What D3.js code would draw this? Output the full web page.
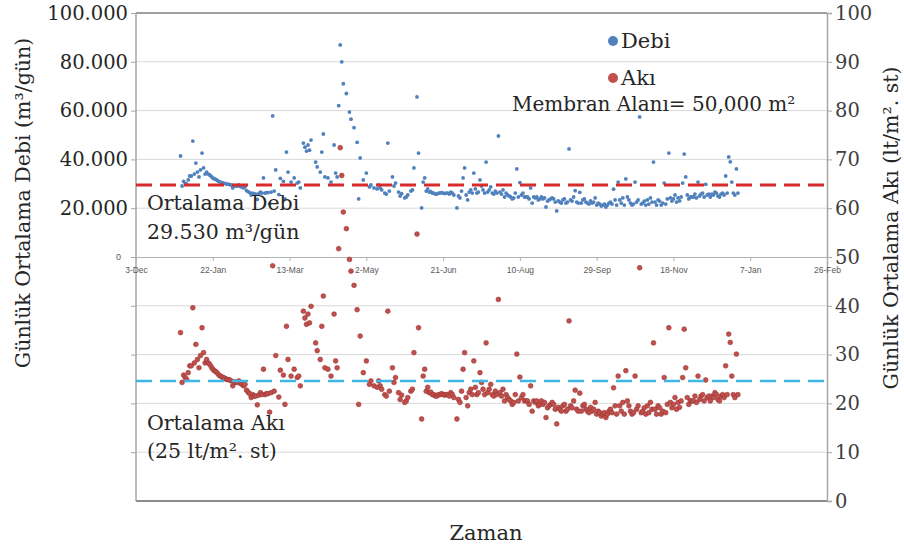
<!DOCTYPE html>
<html>
<head>
<meta charset="utf-8">
<script src="https://cdn.jsdelivr.net/npm/d3@7"></script>
<style>
  body { margin: 0; background: #fff; }
  svg text { font-family: "DejaVu Serif", serif; fill: #262626; }
  svg text.small { font-family: "Liberation Sans", Arial, sans-serif; fill: #595959; }
</style>
</head>
<body>
<div id="chart"></div>
<script>
// daily readings (2010), one line per month
const dates = [
  "01-01","01-02","01-03","01-04","01-05","01-06","01-07","01-08","01-09","01-10","01-11","01-12","01-13","01-14","01-15","01-16","01-17","01-18","01-19","01-20","01-21","01-22","01-23","01-24","01-25","01-26","01-27","01-28","01-29","01-30","01-31",
  "02-01","02-02","02-03","02-04","02-05","02-06","02-07","02-08","02-09","02-10","02-11","02-12","02-13","02-14","02-15","02-16","02-17","02-18","02-19","02-20","02-21","02-22","02-23","02-24","02-25","02-26","02-27","02-28",
  "03-01","03-02","03-03","03-04","03-06","03-07","03-09","03-10","03-11","03-12","03-14","03-16","03-18","03-19","03-20","03-22","03-23","03-24","03-25","03-26","03-27","03-30","03-31",
  "04-02","04-03","04-04","04-05","04-07","04-09","04-11","04-12","04-13","04-14","04-15","04-16","04-17","04-19","04-21","04-22","04-24","04-26","04-27","04-28","04-30",
  "05-02","05-04","05-05","05-07","05-09","05-10","05-11","05-12","05-14","05-15","05-16","05-17","05-19","05-20","05-21","05-23","05-24","05-25","05-27","05-28","05-29","05-31",
  "06-01","06-02","06-04","06-05","06-07","06-08","06-09","06-10","06-11","06-12","06-13","06-14","06-15","06-16","06-17","06-18","06-19","06-20","06-21","06-22","06-23","06-24","06-25","06-26","06-27","06-28","06-30",
  "07-01","07-02","07-03","07-04","07-05","07-06","07-07","07-08","07-09","07-10","07-11","07-12","07-13","07-14","07-15","07-16","07-17","07-18","07-19","07-20","07-21","07-22","07-23","07-24","07-25","07-26","07-27","07-28","07-29","07-30","07-31",
  "08-01","08-02","08-03","08-04","08-05","08-06","08-07","08-08","08-09","08-10","08-11","08-12","08-13","08-14","08-15","08-16","08-17","08-18","08-19","08-20","08-21","08-22","08-23","08-24","08-25","08-26","08-27","08-28","08-29","08-30","08-31",
  "09-01","09-02","09-03","09-04","09-05","09-06","09-07","09-08","09-09","09-10","09-11","09-12","09-13","09-14","09-15","09-16","09-17","09-18","09-19","09-20","09-21","09-22","09-23","09-24","09-25","09-26","09-27","09-28","09-29","09-30",
  "10-01","10-02","10-03","10-04","10-05","10-06","10-07","10-08","10-09","10-10","10-11","10-12","10-13","10-14","10-15","10-16","10-17","10-18","10-19","10-20","10-21","10-22","10-23","10-24","10-25","10-26","10-27","10-28","10-29","10-30","10-31",
  "11-01","11-02","11-03","11-04","11-05","11-06","11-07","11-08","11-09","11-10","11-11","11-12","11-13","11-14","11-15","11-16","11-17","11-18","11-19","11-20","11-21","11-22","11-23","11-24","11-25","11-26","11-27","11-28","11-29","11-30",
  "12-01","12-02","12-03","12-04","12-05","12-06","12-07","12-08","12-09","12-10","12-11","12-12","12-13","12-14","12-15","12-16","12-17","12-18","12-19","12-20","12-21","12-22","12-23","12-24","12-25","12-26","12-27","12-28","12-29","12-30"
];

// Debi, m3/gün
const debi = [
  41400,29100,31000,30300,29900,31600,33200,33200,47500,34000,38500,34800,32800,35700,42600,36500,34000,34800,34000,33600,33000,32400,32000,31800,31400,30900,30700,30500,30300,30100,29900,
  29900,29700,29500,28300,29300,29100,29100,29500,28900,28700,28300,28700,27200,26800,26400,25400,26200,25800,25800,23600,26000,26600,26200,32400,26200,26400,26400,21800,
  26600,57800,27000,35700,25600,32200,31000,23800,43000,34800,30700,32400,30300,30700,28300,46700,45000,43400,45900,43800,47900,38900,36900,
  34800,43000,50400,32800,32400,30700,45900,34400,32800,62000,86900,80000,71000,67000,59400,56500,53000,47000,23800,40600,31600,
  34400,28700,29500,28300,27900,29500,28300,27500,26200,25800,46700,27000,32800,29100,30300,26600,25000,26000,24200,24600,25400,27000,
  27500,36500,65600,42600,20100,30700,32400,27000,27900,26600,26800,26200,26200,25800,25800,26200,26200,26400,26200,26000,26200,26200,25800,26600,26200,25400,20100,
  25000,24200,27000,32400,36500,25400,23400,26600,27500,26200,34400,27900,26200,26600,31600,29100,27500,26200,38900,26600,27500,28700,26200,25800,27000,26200,49600,26600,25800,27500,24600,
  26200,25400,25000,24600,23800,24200,26200,36100,24600,30500,25400,26200,24600,24600,24600,23800,28300,22100,24600,24200,24600,23400,23800,24600,23800,24200,20500,22900,23400,23800,24200,
  23800,22500,18900,23000,22500,22100,23400,23800,22100,22500,44300,23400,22900,24600,27200,22500,22100,26500,22100,23400,23800,22500,22100,21700,23000,22100,22500,24200,21300,22100,
  21700,20900,21300,21700,20500,21300,22100,22500,21700,27800,23400,21300,30700,23400,22100,24200,21300,32000,24600,23400,22100,21300,21700,30700,22500,23400,57400,21700,22100,22900,21300,
  23400,21700,24200,22500,38900,22500,21300,23400,22900,21300,22100,30300,21700,23800,42600,24200,22900,23800,25400,22500,24200,23000,24600,30300,42200,32800,25400,23800,24600,24600,
  24600,25800,24200,30700,25000,25800,26200,24600,29800,25400,25800,24600,25800,25400,26600,26200,25000,24600,25800,26200,25400,33200,26200,41000,39000,30700,26200,25400,36100,26200
];

// Akı, lt/m2.st
const aki = [
  34.5,24.3,25.8,25.3,24.9,26.3,27.7,27.7,39.6,28.3,32.1,29.0,27.3,29.8,35.5,30.4,28.3,29.0,28.3,28.0,27.5,27.0,26.7,26.5,26.2,25.8,25.6,25.4,25.3,25.1,24.9,
  24.9,24.8,24.6,23.6,24.4,24.3,24.3,24.6,24.1,23.9,23.6,23.9,22.7,22.3,22.0,21.2,21.8,21.5,21.5,19.7,21.7,22.2,21.8,27.0,21.8,22.0,22.0,18.2,
  22.2,48.2,22.5,29.8,21.3,26.8,25.8,19.8,35.8,29.0,25.6,27.0,25.3,25.6,23.6,38.9,37.5,36.2,38.3,36.5,39.9,32.4,30.8,
  29.0,35.8,42.0,27.3,27.0,25.6,38.3,28.7,27.3,51.7,72.4,66.7,59.2,55.8,49.5,47.1,44.2,39.2,19.8,33.8,26.3,
  28.7,23.9,24.6,23.6,23.3,24.6,23.6,22.9,21.8,21.5,38.9,22.5,27.3,24.3,25.3,22.2,20.8,21.7,20.2,20.5,21.2,22.5,
  22.9,30.4,54.7,35.5,16.8,25.6,27.0,22.5,23.3,22.2,22.3,21.8,21.8,21.5,21.5,21.8,21.8,22.0,21.8,21.7,21.8,21.8,21.5,22.2,21.8,21.2,16.8,
  20.8,20.2,22.5,27.0,30.4,21.2,19.5,22.2,22.9,21.8,28.7,23.3,21.8,22.2,26.3,24.3,22.9,21.8,32.4,22.2,22.9,23.9,21.8,21.5,22.5,21.8,41.3,22.2,21.5,22.9,20.5,
  21.8,21.2,20.8,20.5,19.8,20.2,21.8,30.1,20.5,25.4,21.2,21.8,20.5,20.5,20.5,19.8,23.6,18.4,20.5,20.2,20.5,19.5,19.8,20.5,19.8,20.2,17.1,19.1,19.5,19.8,20.2,
  19.8,18.8,15.8,19.2,18.8,18.4,19.5,19.8,18.4,18.8,36.9,19.5,19.1,20.5,22.7,18.8,18.4,22.1,18.4,19.5,19.8,18.8,18.4,18.1,19.2,18.4,18.8,20.2,17.8,18.4,
  18.1,17.4,17.8,18.1,17.1,17.8,18.4,18.8,18.1,23.2,19.5,17.8,25.6,19.5,18.4,20.2,17.8,26.7,20.5,19.5,18.4,17.8,18.1,25.6,18.8,19.5,47.8,18.1,18.4,19.1,17.8,
  19.5,18.1,20.2,18.8,32.4,18.8,17.8,19.5,19.1,17.8,18.4,25.3,18.1,19.8,35.5,20.2,19.1,19.8,21.2,18.8,20.2,19.2,20.5,25.3,35.2,27.3,21.2,19.8,20.5,20.5,
  20.5,21.5,20.2,25.6,20.8,21.5,21.8,20.5,24.8,21.2,21.5,20.5,21.5,21.2,22.2,21.8,20.8,20.5,21.5,21.8,21.2,27.7,21.8,34.2,32.5,25.6,21.8,21.2,30.1,21.8
];

const xTickDates = ["2009-12-03","2010-01-22","2010-03-13","2010-05-02","2010-06-21","2010-08-10","2010-09-29","2010-11-18","2011-01-07","2011-02-26"];
const debiTicks = [0, 20000, 40000, 60000, 80000, 100000];
const akiTicks = [0, 10, 20, 30, 40, 50, 60, 70, 80, 90, 100];
const debiMean = 29530;
const akiMean = 24.6;

const width = 904, height = 549;
const plotLeft = 136, plotRight = 827, plotTop = 13, plotBottom = 501;

const parse = d3.timeParse("%Y-%m-%d");
const points = dates.map((d, i) => ({ date: parse("2010-" + d), debi: debi[i], aki: aki[i] }));

const x = d3.scaleTime().domain([parse(xTickDates[0]), parse(xTickDates[xTickDates.length - 1])]).range([plotLeft, plotRight]);
const yAki = d3.scaleLinear().domain([0, 100]).range([plotBottom, plotTop]);
const yDebi = d3.scaleLinear().domain([0, 100000]).range([yAki(50), plotTop]);

const svg = d3.select("#chart").append("svg")
  .attr("width", width).attr("height", height);

// gridlines
svg.append("g")
  .selectAll("line")
  .data(akiTicks.filter(t => t > 0 && t < 100 && t !== 50))
  .enter().append("line")
  .attr("x1", plotLeft).attr("x2", plotRight)
  .attr("y1", d => yAki(d)).attr("y2", d => yAki(d))
  .attr("stroke", "#d9d9d9").attr("stroke-width", 1);

// frame
svg.append("line").attr("x1", plotLeft).attr("x2", plotRight).attr("y1", plotTop).attr("y2", plotTop)
  .attr("stroke", "#7f7f7f").attr("stroke-width", 1.5);
svg.append("line").attr("x1", plotLeft).attr("x2", plotRight).attr("y1", plotBottom).attr("y2", plotBottom)
  .attr("stroke", "#8c8c8c").attr("stroke-width", 2);

// left axis (Debi, upper half) + ticks on the lower half
const leftAxis = svg.append("g").attr("transform", `translate(${plotLeft},0)`)
  .call(d3.axisLeft(yDebi).tickValues(debiTicks).tickSize(5).tickFormat(""));
leftAxis.select(".domain").remove();
leftAxis.selectAll("line").attr("stroke", "#a6a6a6");
svg.append("g").attr("transform", `translate(${plotLeft},0)`)
  .call(d3.axisLeft(yAki).tickValues([10, 20, 30, 40]).tickSize(5).tickFormat(""))
  .call(g => g.select(".domain").remove())
  .selectAll("line").attr("stroke", "#a6a6a6");
svg.append("line").attr("x1", plotLeft).attr("x2", plotLeft).attr("y1", plotTop).attr("y2", plotBottom)
  .attr("stroke", "#a6a6a6").attr("stroke-width", 1.5);

svg.append("g").selectAll("text")
  .data(debiTicks)
  .enter().append("text")
  .attr("class", d => d === 0 ? "small" : null)
  .attr("x", d => d === 0 ? plotLeft - 15 : plotLeft - 8)
  .attr("y", d => yDebi(d))
  .attr("dy", "0.35em")
  .attr("text-anchor", "end")
  .style("font-size", d => d === 0 ? "9px" : "19.5px")
  .text(d => d === 0 ? "0" : d3.format(",")(d).replace(",", "."));

// right axis (Akı)
const rightAxis = svg.append("g").attr("transform", `translate(${plotRight},0)`)
  .call(d3.axisRight(yAki).tickValues(akiTicks).tickSize(5).tickFormat(""));
rightAxis.select(".domain").attr("stroke", "#a6a6a6").attr("stroke-width", 1.5);
rightAxis.selectAll("line").attr("stroke", "#a6a6a6");
svg.append("g").selectAll("text")
  .data(akiTicks)
  .enter().append("text")
  .attr("x", plotRight + 8)
  .attr("y", d => yAki(d))
  .attr("dy", "0.35em")
  .style("font-size", "19.5px")
  .style("fill", "#404040")
  .text(d => d);

// x axis in the middle (Debi zero line)
const xAxis = svg.append("g").attr("transform", `translate(0,${yDebi(0)})`)
  .call(d3.axisBottom(x).tickValues(xTickDates.map(parse)).tickSize(4).tickFormat(d3.timeFormat("%-d-%b")));
xAxis.select(".domain").attr("stroke", "#b3b3b3");
xAxis.selectAll("line").attr("stroke", "#b3b3b3");
xAxis.selectAll("text")
  .attr("class", "small")
  .attr("dy", "1em")
  .style("font-size", "8.5px");

// points
svg.append("g").selectAll("circle")
  .data(points)
  .enter().append("circle")
  .attr("cx", d => x(d.date))
  .attr("cy", d => yDebi(d.debi))
  .attr("r", 1.9)
  .attr("fill", "#4f81bd");

svg.append("g").selectAll("circle")
  .data(points)
  .enter().append("circle")
  .attr("cx", d => x(d.date))
  .attr("cy", d => yAki(d.aki))
  .attr("r", 2.4)
  .attr("fill", "#c0504d")
  .attr("stroke", "#9b3431")
  .attr("stroke-width", 0.6);

// mean lines
svg.append("line")
  .attr("x1", plotLeft).attr("x2", plotRight)
  .attr("y1", yDebi(debiMean)).attr("y2", yDebi(debiMean))
  .attr("stroke", "#d92b2b").attr("stroke-width", 3)
  .attr("stroke-dasharray", "16,8");
svg.append("line")
  .attr("x1", plotLeft).attr("x2", plotRight)
  .attr("y1", yAki(akiMean)).attr("y2", yAki(akiMean))
  .attr("stroke", "#3fb6e6").attr("stroke-width", 2.5)
  .attr("stroke-dasharray", "16,8");

// annotations
function label(xp, yp, txt, size) {
  return svg.append("text").attr("x", xp).attr("y", yp).style("font-size", size + "px").text(txt);
}
label(147, 210, "Ortalama Debi", 20.5);
label(147, 239, "29.530 m³/gün", 20.5);
label(147, 430, "Ortalama Akı", 20.5);
label(147, 458, "(25 lt/m². st)", 20.5);
label(512, 111, "Membran Alanı= 50,000 m²", 20);

// legend
const legend = [{ name: "Debi", color: "#4f81bd", y: 41 }, { name: "Akı", color: "#c0504d", y: 78 }];
const lg = svg.append("g").selectAll("g").data(legend).enter().append("g");
lg.append("circle").attr("cx", 613).attr("cy", d => d.y).attr("r", 5).attr("fill", d => d.color);
lg.append("text").attr("x", 621).attr("y", d => d.y).attr("dy", "0.35em")
  .style("font-size", "21px").text(d => d.name);

// axis titles
svg.append("text")
  .attr("transform", "translate(30,203) rotate(-90)")
  .attr("text-anchor", "middle")
  .style("font-size", "20.5px")
  .text("Günlük Ortalama Debi (m³/gün)");
svg.append("text")
  .attr("transform", "translate(898,228) rotate(-90)")
  .attr("text-anchor", "middle")
  .style("font-size", "20.5px")
  .text("Günlük Ortalama Akı (lt/m². st)");
svg.append("text")
  .attr("x", 486).attr("y", 540)
  .attr("text-anchor", "middle")
  .style("font-size", "21px")
  .text("Zaman");
</script>
</body>
</html>
